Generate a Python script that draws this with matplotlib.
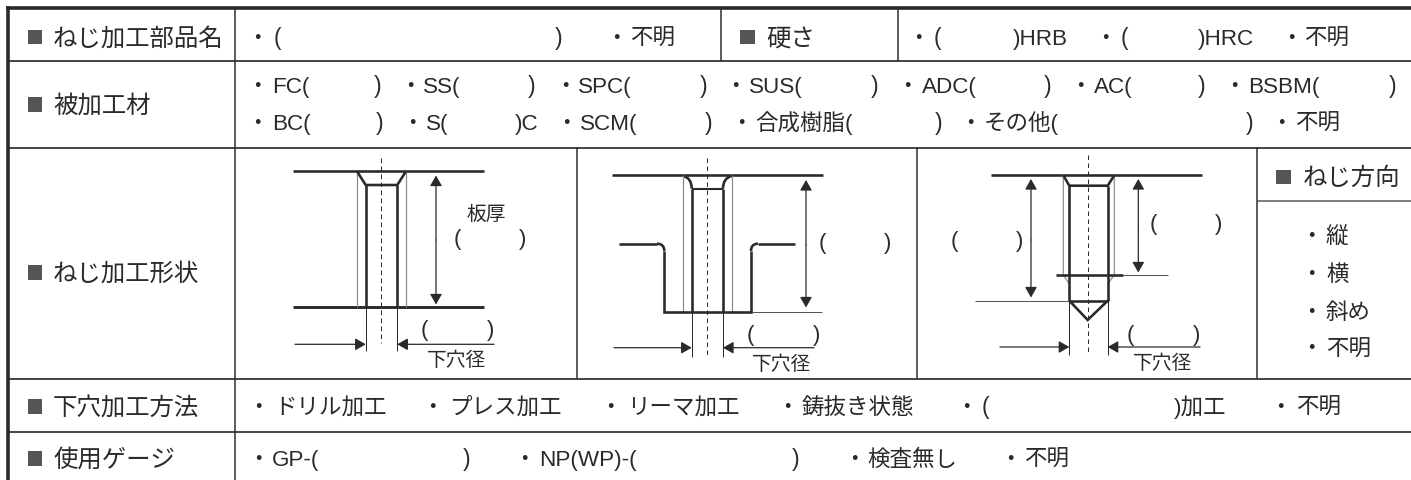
import matplotlib
matplotlib.use("Agg")
import matplotlib.pyplot as plt
from matplotlib.path import Path
from matplotlib.patches import PathPatch, Rectangle

FONT = ['Liberation Sans', 'Noto Sans CJK JP', 'DejaVu Sans']
INK = '#2a2a2a'
GRAY = '#8a8a8a'
SQ = '#555555'
PX = 72 / 100

# ---- text content ----
row_labels = ['ねじ加工部品名', '被加工材', 'ねじ加工形状', '下穴加工方法', '使用ゲージ']
hard_label = '硬さ'
dir_label = 'ねじ方向'
dir_options = ['縦', '横', '斜め', '不明']
row1_left = ['不明']
row1_right = [')HRB', ')HRC', '不明']
mat_line1 = ['FC(', 'SS(', 'SPC(', 'SUS(', 'ADC(', 'AC(', 'BSBM(']
mat_line2 = ['BC(', 'S(', 'SCM(', '合成樹脂(', 'その他(', '不明']
drill_opts = ['ドリル加工', 'プレス加工', 'リーマ加工', '鋳抜き状態', ')加工', '不明']
gauge_opts = ['GP-(', 'NP(WP)-(', '検査無し', '不明']
plate_label = '板厚'
hole_label = '下穴径'

# ---- layout ----
row_label_y = [36.5, 104, 272, 406, 458]
mat1_dot = [257.7, 410, 565, 735.7, 907.3, 1080, 1234.3]
mat1_x = [271.7, 423.3, 578.3, 749.3, 921.7, 1094.3, 1248.3]
mat1_close = [377.7, 531.7, 703.3, 875, 1047.7, 1201.7, 1392.7]
mat2_dot = [257.7, 412.3, 566.7, 741.7, 970, 1281.7]
mat2_x = [271.7, 425.7, 580, 755, 984, 1295]
mat2_close = [380, 708.3, 938.3, 1249.3]
drill_dot = [258, 432, 610.7, 787, 966.5, 1280]
drill_x = [274.5, 448.7, 627, 801.8, 1174, 1296]
gauge_dot = [258, 524.5, 854, 1010]
gauge_x = [272, 539.3, 867.4, 1024.5]
gauge_close = [466.5, 796]
dir_y = [235, 273.3, 310.7, 347.3]

fig = plt.figure(figsize=(14.11, 4.80), dpi=100)
ax = fig.add_axes([0, 0, 1, 1])
ax.set_xlim(0, 1411)
ax.set_ylim(480, 0)
ax.axis('off')


def txt(x, y, s, size=16.2, ha='left', color=INK):
    ax.text(x, y + size / PX * 0.36, s, fontsize=size, ha=ha, va='baseline',
            family=FONT, color=color)


def dot(x, y):
    txt(x, y, '・', ha='center')


def paren(x, y, s, size=16.6):
    txt(x, y, s, size=size, ha='center')


def square(x, y):
    ax.add_patch(Rectangle((x, y - 7), 14.5, 14.5, fc=SQ, ec='none'))


def line(xs, ys, w=1.0, c=INK, ls='-', cap='butt'):
    ax.plot(xs, ys, color=c, lw=w * PX, ls=ls, solid_capstyle=cap,
            solid_joinstyle='miter')


def arrow(x0, y0, x1, y1):
    ax.annotate('', xy=(x1, y1), xytext=(x0, y0),
                arrowprops=dict(arrowstyle='-|>,head_length=0.42,head_width=0.24',
                                mutation_scale=15, color=INK, lw=0.9,
                                shrinkA=0, shrinkB=0))


def curve(p0, c, p1, w=2.6):
    ax.add_patch(PathPatch(Path([p0, c, p1], [Path.MOVETO, Path.CURVE3, Path.CURVE3]),
                           fc='none', ec=INK, lw=w * PX))


# ---- table grid ----
line([5.5, 1411], [8, 8], 3.6)
line([8, 8], [6, 480], 3.6)
for yy in (61, 147.5, 379, 432):
    line([8, 1411], [yy, yy], 1.7)
line([235, 235], [8, 480], 1.5)
for xx in (721, 898):
    line([xx, xx], [8, 61], 1.5)
for xx in (577, 917, 1257):
    line([xx, xx], [147, 379], 1.5)
line([1257, 1411], [201, 201], 1.5, c='#555555')

# ---- row labels ----
LABEL = 17.6
for label, yy in zip(row_labels, row_label_y):
    square(27.5, yy)
    txt(53, yy, label, size=LABEL)
square(740, 36.5)
txt(766, 36.5, hard_label, size=LABEL)
square(1276, 176.5)
txt(1303, 176.5, dir_label, size=LABEL)

# ---- row 1 ----
Y1 = 36.5
dot(257, Y1)
paren(277, Y1, '(')
paren(558.5, Y1, ')')
dot(616.8, Y1)
txt(630, Y1, row1_left[0])
dot(918, Y1)
paren(937, Y1, '(')
txt(1012.7, Y1, row1_right[0])
dot(1105, Y1)
paren(1124, Y1, '(')
txt(1198, Y1, row1_right[1])
dot(1291.7, Y1)
txt(1304, Y1, row1_right[2])

# ---- materials ----
Y2a, Y2b = 85, 122
for s, d, x, c in zip(mat_line1, mat1_dot, mat1_x, mat1_close):
    dot(d, Y2a)
    txt(x, Y2a, s)
    paren(c, Y2a, ')')
for s, d, x in zip(mat_line2, mat2_dot, mat2_x):
    dot(d, Y2b)
    txt(x, Y2b, s)
txt(515, Y2b, ')C')
for c in mat2_close:
    paren(c, Y2b, ')')

# ---- direction ----
for s, yy in zip(dir_options, dir_y):
    dot(1311.7, yy)
    txt(1326, yy, s)

# ---- drill method ----
Y5 = 406
for s, d, x in zip(drill_opts, drill_dot, drill_x):
    dot(d, Y5)
    txt(x, Y5, s)
paren(985.7, Y5, '(')

# ---- gauge ----
Y6 = 458
for s, d, x in zip(gauge_opts, gauge_dot, gauge_x):
    dot(d, Y6)
    txt(x, Y6, s)
for c in gauge_close:
    paren(c, Y6, ')')

SMALL = 14.2
PAREN = 16
THICK = 2.6
THIN = 1.0
DASH = (0, (4.5, 3.5))

# ---- sketch 1 ----
line([293, 484], [171.3, 171.3], THICK)
line([293, 484], [307, 307], THICK + 0.3)
line([381.3, 381.3], [158, 343], 1.0, ls=DASH)
line([357, 357], [171, 307], 1.2, GRAY)
line([406, 406], [171, 307], 1.2, GRAY)
line([357, 365.7, 397.3, 406], [171.3, 185, 185, 171.3], THICK)
line([365.7, 365.7], [185, 307], THICK)
line([397.3, 397.3], [185, 307], THICK)
line([365.7, 365.7], [307, 351], THIN)
line([397.3, 397.3], [307, 351], THIN)
arrow(295, 344.3, 365.7, 344.3)
arrow(494, 344.3, 397.3, 344.3)
arrow(436, 240, 436, 175.5)
arrow(436, 240, 436, 304.5)
txt(486, 213, plate_label, size=SMALL, ha='center')
paren(457.7, 236.7, '(', PAREN)
paren(523, 236.7, ')', PAREN)
paren(424, 328, '(', PAREN)
paren(491, 328, ')', PAREN)
txt(456.7, 359, hole_label, size=SMALL, ha='center')

# ---- sketch 2 ----
line([612, 823], [175.3, 175.3], THICK)
line([707.3, 707.3], [158, 357], 1.0, ls=DASH)
line([683.3, 683.3], [175, 311.7], 1.2, GRAY)
line([731.7, 731.7], [175, 311.7], 1.2, GRAY)
line([691.7, 691.7], [188.7, 311.7], THICK)
line([723, 723], [188.7, 311.7], THICK)
line([691.7, 723], [188.7, 188.7], THICK - 0.5)
curve((683.3, 176), (691.7, 178), (691.7, 188.7))
curve((731.7, 176), (723, 178), (723, 188.7))
line([618.7, 657], [243.7, 243.7], THICK)
curve((657, 243.7), (664.3, 243.7), (664.3, 251))
line([664.3, 664.3, 751, 751], [251, 311.7, 311.7, 251], THICK)
curve((751, 251), (751, 243.7), (758, 243.7))
line([758, 795], [243.7, 243.7], THICK)
line([751, 822], [311.7, 311.7], THIN, c='#555555')
line([691.7, 691.7], [311.7, 357], THIN)
line([723, 723], [311.7, 357], THIN)
arrow(614, 347.7, 691.7, 347.7)
arrow(814, 347.7, 723, 347.7)
arrow(806, 245, 806, 180)
arrow(806, 245, 806, 307.5)
paren(822.7, 240.7, '(', PAREN)
paren(888, 240.7, ')', PAREN)
paren(750.7, 332.7, '(', PAREN)
paren(816.7, 332.7, ')', PAREN)
txt(782, 362.7, hole_label, size=SMALL, ha='center')

# ---- sketch 3 ----
line([991, 1202], [175.3, 175.3], THICK)
line([1087.7, 1087.7], [155, 355], 1.0, ls=DASH)
line([1063.3, 1063.3, 1069.3], [175, 275, 284], 1.2, GRAY)
line([1114.3, 1114.3, 1107.7], [175, 275, 284], 1.2, GRAY)
line([1063.3, 1069.3, 1107.7, 1114.3], [175.3, 185.7, 185.7, 175.3], THICK)
line([1069.3, 1069.3], [185.7, 300.7], THICK)
line([1107.7, 1107.7], [185.7, 300.7], THICK)
line([1055.7, 1122.7], [275.3, 275.3], THICK)
line([1122.7, 1167.7], [275.3, 275.3], THIN, c='#555555')
line([975, 1069.3], [300.7, 300.7], THIN, c='#555555')
line([1069.3, 1107.7], [300.7, 300.7], THICK)
line([1069.3, 1087.7, 1107.7], [300.7, 320, 300.7], THICK)
line([1069.3, 1069.3], [300.7, 355], THIN)
line([1107.7, 1107.7], [300.7, 355], THIN)
arrow(1000, 347, 1069.3, 347)
arrow(1200, 347, 1107.7, 347)
arrow(1031, 240, 1031, 179)
arrow(1031, 240, 1031, 297.5)
arrow(1138.3, 225, 1138.3, 179)
arrow(1138.3, 225, 1138.3, 272.5)
paren(954.3, 239, '(', PAREN)
paren(1020, 239, ')', PAREN)
paren(1153, 221.7, '(', PAREN)
paren(1219, 221.7, ')', PAREN)
paren(1130.7, 332.7, '(', PAREN)
paren(1196.7, 332.7, ')', PAREN)
txt(1163, 361.7, hole_label, size=SMALL, ha='center')

fig.savefig('out.png', dpi=100, facecolor='white')
